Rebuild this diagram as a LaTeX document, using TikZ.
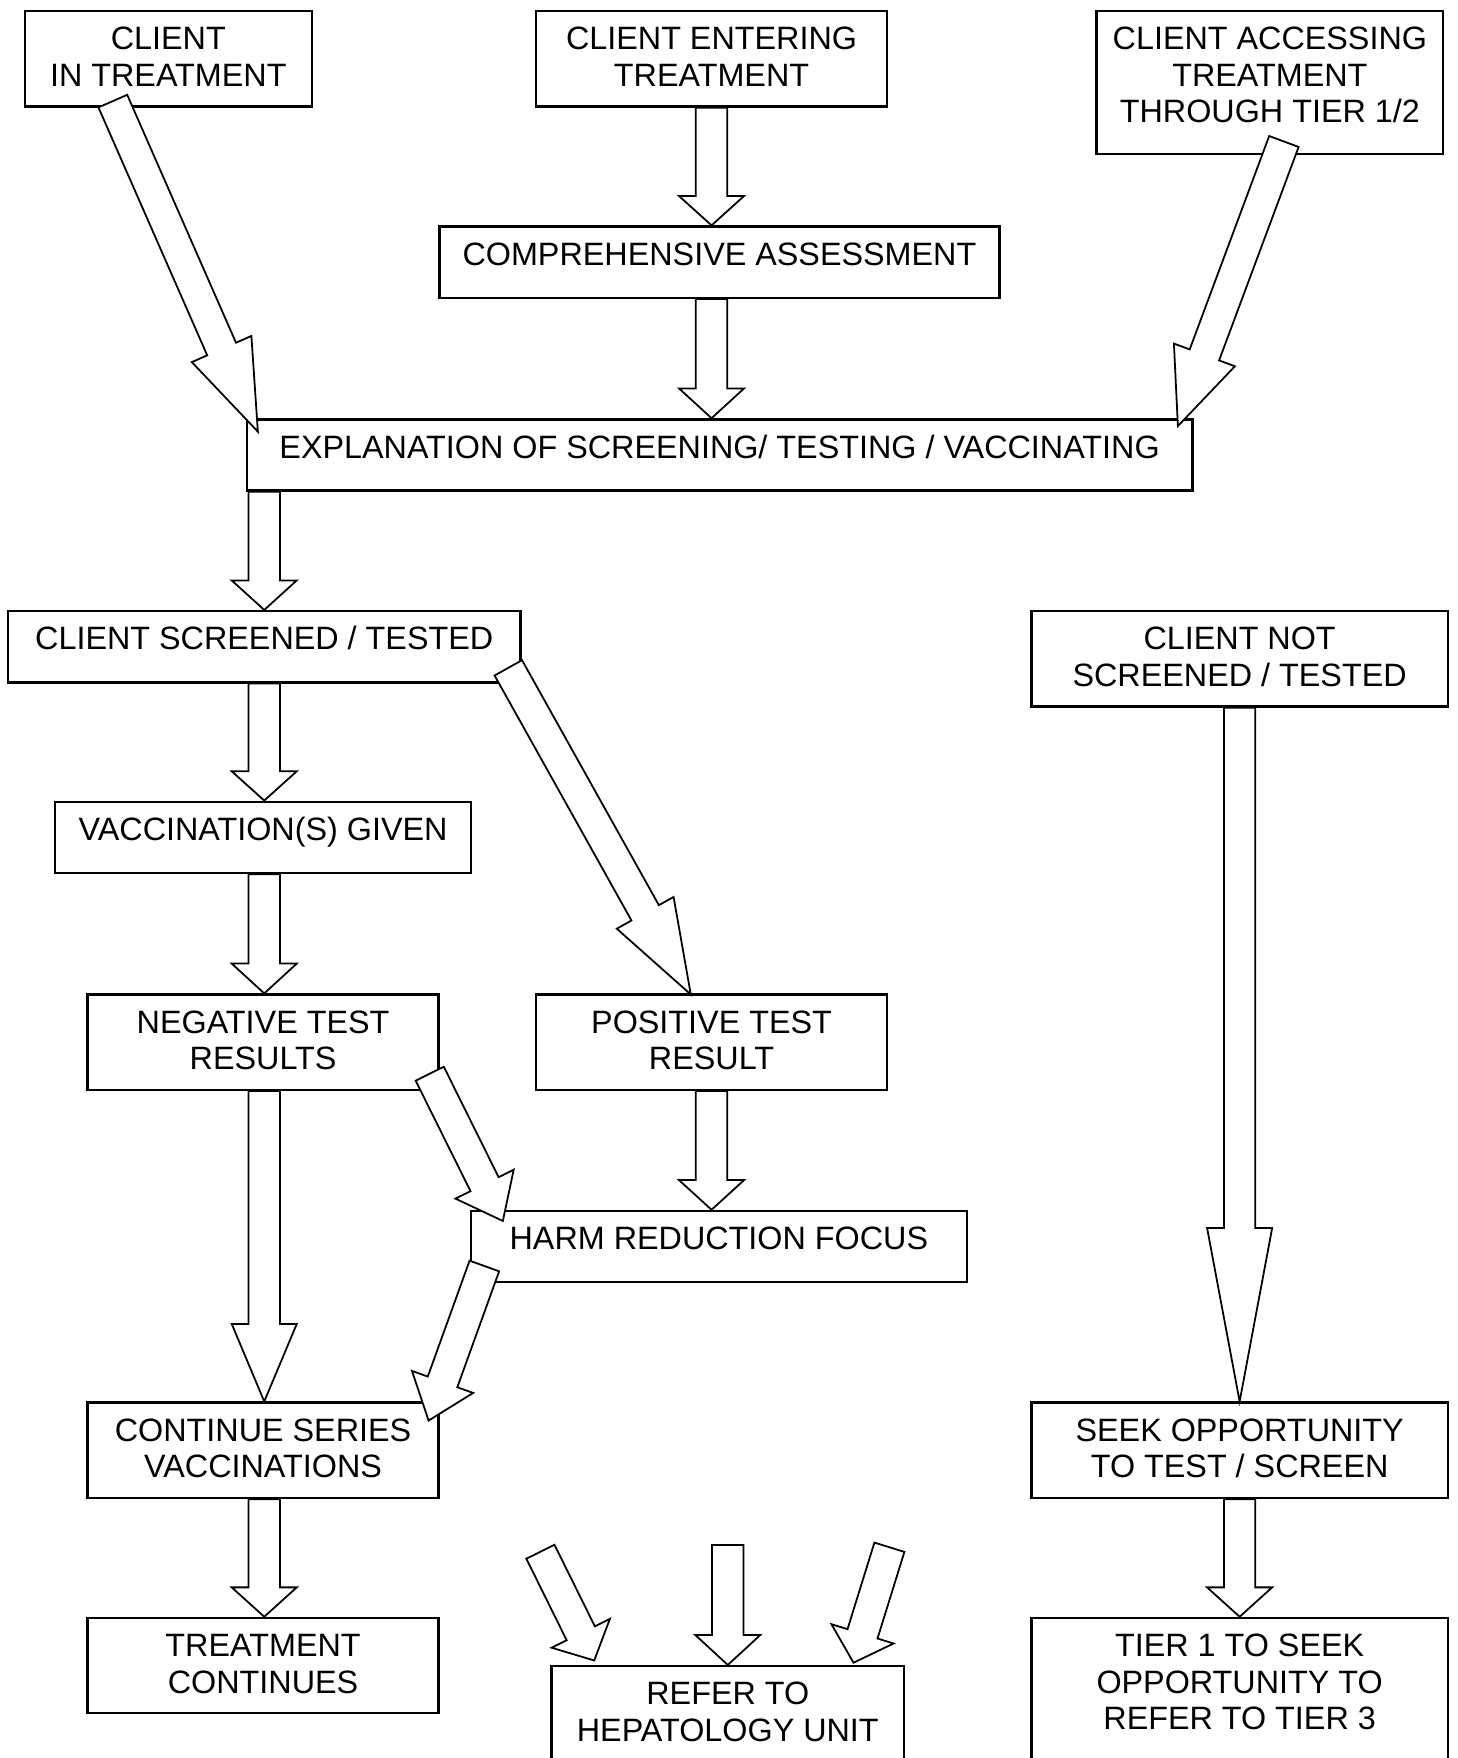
\documentclass[tikz,border=0pt]{standalone}
\usepackage{fontspec}
\setmainfont{Liberation Sans}
\usetikzlibrary{
	calc
}
\newcommand{\stagefont}{\fontsize{8.2}{9.25}\selectfont}
\newcommand{\stagelines}[1]{\begin{tabular}[t]{@{}c@{}}#1\end{tabular}}
% hollow block arrow from #1 to #2, head is a quarter of the length
\newcommand{\fatarrow}[2]{%
	\coordinate (fa-b) at ($(#2)!0.25!(#1)$);
	\draw[blockarrow] ($(#1)!0.14cm!90:(#2)$) -- ($(fa-b)!0.14cm!90:(#2)$)
		-- ($(fa-b)!0.29cm!90:(#2)$) -- (#2) -- ($(fa-b)!0.29cm!-90:(#2)$)
		-- ($(fa-b)!0.14cm!-90:(#2)$) -- ($(#1)!0.14cm!-90:(#2)$) -- cycle;
}
\tikzset{
	stage/.style={draw, line width=0.6pt, fill=white, inner sep=0pt, anchor=north west,
		text height=0.345cm, font=\stagefont},
	onerow/.style={text depth=0.29cm},
	tworow/.style={text depth=0.505cm},
	threerow/.style={text depth=0.925cm},
	blockarrow/.style={draw, fill=white, line width=0.45pt, line join=miter}
}

\begin{document}
\begin{tikzpicture}[x=0.01cm, y=-0.01cm]
	\useasboundingbox (0,0) rectangle (1300,1568);
	\clip (0,0) rectangle (1300,1568);

	\node[stage, tworow, minimum width=2.56cm] (cit) at (21,9) {\stagelines{CLIENT\\IN TREATMENT}};
	\node[stage, tworow, minimum width=3.13cm] (cet) at (477,9) {\stagelines{CLIENT ENTERING\\TREATMENT}};
	\node[stage, threerow, minimum width=3.09cm] (cat) at (977,9) {\stagelines{CLIENT ACCESSING\\TREATMENT\\THROUGH TIER 1/2}};
	\node[stage, onerow, minimum width=4.99cm] (ca) at (391,201) {COMPREHENSIVE ASSESSMENT};
	\node[stage, onerow, minimum width=8.43cm] (expl) at (219,373) {EXPLANATION OF SCREENING/ TESTING / VACCINATING};
	\node[stage, onerow, minimum width=4.57cm] (cst) at (6,544) {CLIENT SCREENED / TESTED};
	\node[stage, tworow, minimum width=3.71cm] (cnst) at (919,544) {\stagelines{CLIENT NOT\\SCREENED / TESTED}};
	\node[stage, onerow, minimum width=3.71cm] (vg) at (48,714) {VACCINATION(S) GIVEN};
	\node[stage, tworow, minimum width=3.13cm] (neg) at (77,886) {\stagelines{NEGATIVE TEST\\RESULTS}};
	\node[stage, tworow, minimum width=3.13cm] (pos) at (477,886) {\stagelines{POSITIVE TEST\\RESULT}};
	\node[stage, onerow, minimum width=4.42cm] (hrf) at (419,1079) {HARM REDUCTION FOCUS};
	\node[stage, tworow, minimum width=3.13cm] (csv) at (77,1250) {\stagelines{CONTINUE SERIES\\VACCINATIONS}};
	\node[stage, tworow, minimum width=3.71cm] (sots) at (919,1250) {\stagelines{SEEK OPPORTUNITY\\TO TEST / SCREEN}};
	\node[stage, tworow, minimum width=3.13cm] (tc) at (77,1442) {\stagelines{TREATMENT\\CONTINUES}};
	\node[stage, text depth=0.9cm, minimum width=3.14cm] (rhu) at (491,1485) {\stagelines{REFER TO\\HEPATOLOGY UNIT}};
	\node[stage, text depth=1.3cm, minimum width=3.71cm] (tier) at (919,1442) {\stagelines{TIER 1 TO SEEK\\OPPORTUNITY TO\\REFER TO TIER 3}};

	% ends of the straight arrows
	\coordinate (a1) at (cet.south |- ca.north);
	\coordinate (a2) at (cet.south |- ca.south);
	\coordinate (a3) at (cet.south |- expl.north);
	\coordinate (b1) at (cst.north |- expl.south);
	\coordinate (b2) at (cst.south |- vg.north);
	\coordinate (b3) at (cst.south |- vg.south);
	\coordinate (b4) at (cst.south |- neg.north);
	\coordinate (b5) at (cst.south |- neg.south);
	\coordinate (b6) at (cst.south |- csv.north);
	\coordinate (b7) at (cst.south |- csv.south);
	\coordinate (b8) at (cst.south |- tc.north);
	\coordinate (c1) at (pos.south |- hrf.north);
	\coordinate (r1) at ([yshift=1.07cm]rhu.north);

	% ends of the slanted arrows
	\coordinate (d1) at ([shift={(-49.5,-6)}]cit.south);
	\coordinate (d2) at ([shift={(11,12)}]expl.north west);
	\coordinate (e1) at ([shift={(12.5,-12)}]cat.south);
	\coordinate (e2) at ([shift={(-14,7)}]expl.north east);
	\coordinate (f1) at ([shift={(-12,-14)}]cst.south east);
	\coordinate (f2) at ([shift={(-18.5,1)}]pos.north);
	\coordinate (g1) at ([shift={(-9,-15.5)}]neg.south east);
	\coordinate (g2) at ([shift={(29.5,10)}]hrf.north west);
	\coordinate (h1) at ([shift={(13,-15.5)}]hrf.south west);
	\coordinate (h2) at ([shift={(-10,17)}]csv.north east);
	\coordinate (l1) at ([shift={(-9,-101)}]rhu.north west);
	\coordinate (l2) at ([shift={(39,-4)}]rhu.north west);
	\coordinate (m1) at ([shift={(-14,-105)}]rhu.north east);
	\coordinate (m2) at ([shift={(-46,-2)}]rhu.north east);

	\fatarrow{cet.south}{a1}
	\fatarrow{a2}{a3}
	\fatarrow{b1}{cst.north}
	\fatarrow{cst.south}{b2}
	\fatarrow{b3}{b4}
	\fatarrow{b5}{b6}
	\fatarrow{b7}{b8}
	\fatarrow{pos.south}{c1}
	\fatarrow{cnst.south}{sots.north}
	\fatarrow{sots.south}{tier.north}
	\fatarrow{r1}{rhu.north}

	\fatarrow{d1}{d2}
	\fatarrow{e1}{e2}
	\fatarrow{f1}{f2}
	\fatarrow{g1}{g2}
	\fatarrow{h1}{h2}
	\fatarrow{l1}{l2}
	\fatarrow{m1}{m2}
\end{tikzpicture}
\end{document}
